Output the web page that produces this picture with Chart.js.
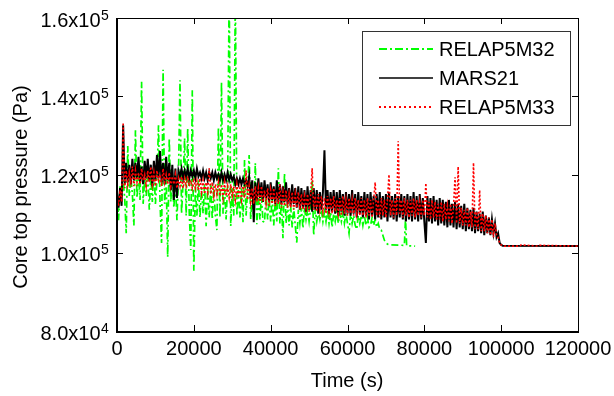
<!DOCTYPE html>
<html>
<head>
<meta charset="utf-8">
<script src="https://cdn.jsdelivr.net/npm/chart.js@4/dist/chart.umd.min.js"></script>
<style>
html,body{margin:0;padding:0;background:#fff;}
canvas{display:block;}
</style>
</head>
<body>
<canvas id="c" width="614" height="396"></canvas>
<script>
// ---- data (time in s, pressure in Pa) ----
const STEP_S = 400; // sampling interval of the noisy records

const seriesNames = ['RELAP5M32', 'MARS21', 'RELAP5M33'];

const relap5m32Pa = [
116000,108300,117000,113000,118500,114000,105000,127300,114500,119500,
115000,107000,131300,114000,120000,113500,143700,112500,119000,114500,
121000,111000,119500,113000,122000,112500,118500,132600,113000,102500,
146800,112500,119000,98900,129300,113000,120000,111500,118500,108300,
119500,144100,110000,118000,129300,109500,131800,110500,100700,141500,
95400,117000,109500,118500,109000,116500,110000,117500,106800,117000,
109000,117500,108500,117000,109500,105800,132100,109000,143600,110000,
116500,108500,117500,168000,106800,116500,109500,168000,109500,116000,
109000,116500,107800,123700,109500,116000,125000,108500,115500,109000,
122900,107300,115000,108500,114500,108000,107800,115000,108500,114000,
108000,114500,107000,113500,108000,121600,107500,113000,103700,120300,
107500,112500,107000,112000,106500,111500,107000,102600,111000,107500,
111500,106300,111500,108500,111000,108000,111500,118500,104500,111000,
108000,110500,108500,111000,108000,110500,108000,111000,107500,110500,
106500,110000,108000,110500,107500,110000,108000,110500,107500,110000,
107500,105000,110000,107500,109500,107000,106000,109500,107500,109500,
107000,109500,107000,109000,106500,107000,109000,107000,108500,106500,
107500,106000,105800,104500,103200];
const relap5m32TailTime = [70000, 70400, 71000, 74800, 75100, 75400, 77600];
const relap5m32TailPa   = [102600, 102200, 102000, 101900, 108800, 101800, 101700];

const mars21Pa = [
115000,111500,116500,112000,132600,117500,123000,118000,122500,117500,
124000,118500,123000,119000,124500,118000,122000,117500,123500,119000,
124000,118500,122500,117000,123500,118500,125000,119000,126000,118000,
123000,117500,124500,118500,123000,116000,122500,113500,121500,114000,
121000,119500,121500,119000,121000,119500,121500,119000,121000,119500,
121000,119000,121500,119500,120500,119000,121000,119000,120500,118500,
120500,119000,120500,118500,120500,119000,120000,118500,120500,118500,
120000,118500,120500,118500,120000,118500,119500,117500,119000,117500,
119000,117500,119000,117500,118500,117000,119500,114000,118500,107800,
118000,113500,119000,114000,118000,113000,118500,114000,117500,113000,
118000,113500,117000,112500,118500,113000,117500,112500,117000,113000,
118000,112500,116500,112000,117500,112500,116500,111500,117000,111000,
116500,111500,116000,110500,117000,111000,116000,110500,116500,111000,
116000,110000,115500,111000,115500,126200,111000,116000,110000,115500,
110500,116000,110000,115500,109500,116000,110500,115000,109500,115500,
110000,115000,109500,116000,110000,115000,109000,115500,110000,114500,
109000,115500,109500,115000,108500,115500,109500,114500,108500,115000,
109000,115500,108500,114500,109000,115000,108000,115500,109000,114500,
108500,115000,108000,114500,109000,115000,108500,114500,108000,115000,
108500,114500,108000,115500,108500,114500,108000,115000,108500,114000,
108000,102500,114500,108000,114000,107500,114500,108000,113500,107000,
114000,107500,113500,107000,113000,106500,113500,107000,112500,106500,
113000,106000,112500,106500,112000,106000,112500,105500,111500,106000,
111000,105500,111500,105000,110500,105500,110000,105000,110500,104500,
109500,105000,109000,104500,108500,105000,107500,104000,105000,102500];
const mars21TailTime = [100000, 100400, 120000];
const mars21TailPa   = [102000, 101800, 101700];

const relap5m33Pa = [
114000,112000,116000,113000,133300,116500,121000,117500,120500,118000,
122000,117000,121000,118000,120500,117500,121500,118500,120000,117000,
121000,118000,122000,117500,120500,117000,121000,118500,120000,117000,
121500,118000,120000,117500,120500,117000,119500,117500,120000,116500,
119000,117000,119500,116500,119000,117000,119500,117000,118500,116500,
119000,116500,118500,116000,119000,115500,118500,115000,118000,115500,
121600,115000,118000,114500,117500,115000,118000,114500,117500,114000,
118000,114500,117000,114000,117500,114500,117000,113500,117500,114000,
116500,113500,117000,114000,121000,113500,117000,113000,116500,112500,
117000,113000,116500,112500,117000,113000,116000,112500,116500,112000,
116000,112500,116500,112000,115500,112500,117500,111500,115500,112000,
116000,111500,115000,111500,115500,111000,115000,111500,115500,111000,
115000,111000,114500,111500,115000,110500,114500,121600,111000,114500,
110500,115000,111000,114500,110500,114000,110000,114500,110500,114000,
110000,114500,110500,113500,110000,114000,109500,114500,110000,113500,
109500,114000,110000,113500,109500,114000,110000,113500,109500,114000,
109500,113500,109000,114000,109500,113500,109000,113500,118000,109500,
113500,109000,114000,109500,113500,109000,113500,120000,109500,113500,
109000,114000,109500,128500,110000,113500,109000,114000,109500,113500,
109000,113500,109500,114000,109000,113500,109500,113000,109000,113500,
109500,117800,109000,113000,108500,113500,109000,113000,108500,112500,
108500,113000,108000,112500,108500,112000,108000,112500,107500,112000,
119300,107500,122000,107500,111500,107000,111000,107000,111500,106500,
110500,106500,123000,106000,110500,106000,116000,105500,110000,105500,
109500,105000,109000,104500,108500,104000,107500,104500,104000,102500];
const relap5m33TailTime = [100000, 100800, 104800, 105200, 109600, 110000, 120000];
const relap5m33TailPa   = [102000, 101700, 101700, 102000, 101700, 101900, 101700];

// axis ticks
const xTickValues = [0, 20000, 40000, 60000, 80000, 100000, 120000];
const xTickLabels = ['0', '20000', '40000', '60000', '80000', '100000', '120000'];
const yTickValues = [80000, 100000, 120000, 140000, 160000];
const yTickMantissa = ['8.0x10', '1.0x10', '1.2x10', '1.4x10', '1.6x10'];
const yTickExponent = ['4', '5', '5', '5', '5'];
const xTitle = 'Time (s)';
const yTitle = 'Core top pressure (Pa)';

// ---- build ----
function buildPoints(vals, tailT, tailV) {
  const pts = vals.map((v, i) => ({ x: i * STEP_S, y: v }));
  tailT.forEach((t, j) => pts.push({ x: t, y: tailV[j] }));
  return pts;
}

const FONT = "'Liberation Sans', Arial, Helvetica, sans-serif";

const styles = [
  { color: '#00ff00', dash: [7, 3, 2, 3], width: 1.7, legendWidth: 2, legendDash: [8, 3, 2, 3] },
  { color: '#000000', dash: [], width: 2, legendWidth: 1.5, legendDash: [] },
  { color: '#ff0000', dash: [2, 2], width: 1.6, legendWidth: 2, legendDash: [2, 3] }
];

const datasets = [
  { label: seriesNames[0], data: buildPoints(relap5m32Pa, relap5m32TailTime, relap5m32TailPa), order: 3 },
  { label: seriesNames[1], data: buildPoints(mars21Pa, mars21TailTime, mars21TailPa), order: 2 },
  { label: seriesNames[2], data: buildPoints(relap5m33Pa, relap5m33TailTime, relap5m33TailPa), order: 1 }
].map((d, k) => Object.assign(d, {
  borderColor: styles[k].color,
  borderWidth: styles[k].width,
  borderDash: styles[k].dash.slice(),
  pointRadius: 0,
  fill: false,
  tension: 0
}));

const decorPlugin = {
  id: 'decor',
  afterDraw(chart) {
    const c = chart.ctx;
    const a = chart.chartArea;
    const xs = chart.scales.x, ys = chart.scales.y;
    c.save();
    c.setLineDash([]);
    // frame
    c.strokeStyle = '#000';
    c.lineWidth = 1;
    c.strokeRect(a.left + 0.5, a.top + 0.5, a.right - a.left, a.bottom - a.top);
    c.lineWidth = 2;
    c.beginPath();
    c.moveTo(a.left, a.top); c.lineTo(a.left, a.bottom + 1); c.lineTo(a.right + 1, a.bottom + 1);
    c.stroke();
    // ticks (inward)
    c.lineWidth = 1;
    const TL = 6;
    c.beginPath();
    xTickValues.forEach(v => {
      const px = Math.round(xs.getPixelForValue(v)) + 0.5;
      c.moveTo(px, a.bottom); c.lineTo(px, a.bottom - TL);
      c.moveTo(px, a.top); c.lineTo(px, a.top + TL);
    });
    yTickValues.forEach(v => {
      const py = Math.round(ys.getPixelForValue(v)) + 0.5;
      c.moveTo(a.left, py); c.lineTo(a.left + TL, py);
      c.moveTo(a.right, py); c.lineTo(a.right - TL, py);
    });
    c.stroke();
    // x tick labels
    c.fillStyle = '#000';
    c.font = '20px ' + FONT;
    c.textAlign = 'center';
    c.textBaseline = 'middle';
    xTickValues.forEach((v, i) => {
      c.fillText(xTickLabels[i], xs.getPixelForValue(v), 349);
    });
    // y tick labels with superscript
    yTickValues.forEach((v, i) => {
      const py = ys.getPixelForValue(v);
      c.font = '20px ' + FONT;
      c.textAlign = 'right';
      c.textBaseline = 'alphabetic';
      c.fillText(yTickMantissa[i], 100.5, py + 8.5);
      c.font = '14px ' + FONT;
      c.textAlign = 'left';
      c.fillText(yTickExponent[i], 101, py + 1.5);
    });
    // axis titles
    c.font = '20px ' + FONT;
    c.textAlign = 'center';
    c.textBaseline = 'middle';
    c.fillText(xTitle, 347, 381);
    c.save();
    c.translate(21, 187);
    c.rotate(-Math.PI / 2);
    c.fillText(yTitle, 0, 0);
    c.restore();
    // legend
    const lx = 362, ly = 31, lw = 208, lh = 94;
    c.fillStyle = '#fff';
    c.fillRect(lx, ly, lw, lh);
    c.strokeStyle = '#333';
    c.lineWidth = 1;
    c.strokeRect(lx + 0.5, ly + 0.5, lw, lh);
    const rows = [49, 78, 107];
    seriesNames.forEach((name, k) => {
      c.save();
      c.strokeStyle = styles[k].color;
      c.lineWidth = styles[k].legendWidth;
      c.setLineDash(styles[k].legendDash);
      c.beginPath();
      c.moveTo(379, rows[k]);
      c.lineTo(433, rows[k]);
      c.stroke();
      c.restore();
      c.fillStyle = '#000';
      c.font = '20px ' + FONT;
      c.textAlign = 'left';
      c.textBaseline = 'middle';
      c.fillText(name, 439, rows[k] + 1);
    });
    c.restore();
  }
};

new Chart(document.getElementById('c'), {
  type: 'line',
  data: { datasets },
  options: {
    responsive: false,
    animation: false,
    devicePixelRatio: 1,
    parsing: false,
    layout: { padding: { left: 117, right: 36, top: 18, bottom: 65 } },
    scales: {
      x: { type: 'linear', min: 0, max: 120000, display: false },
      y: { type: 'linear', min: 80000, max: 160000, display: false }
    },
    plugins: { legend: { display: false }, tooltip: { enabled: false } }
  },
  plugins: [decorPlugin]
});
</script>
</body>
</html>
